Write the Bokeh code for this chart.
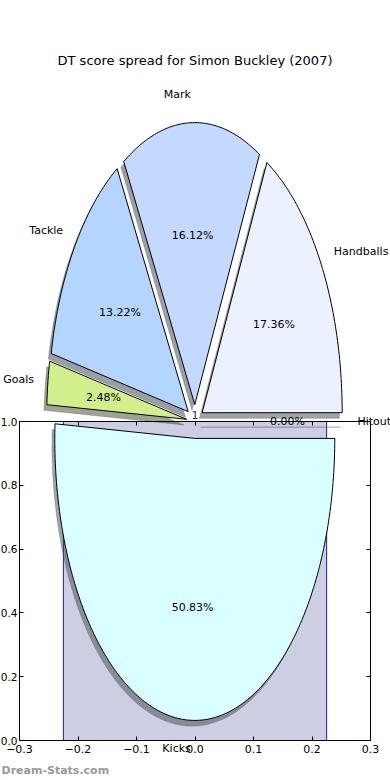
import math
from bokeh.plotting import figure
from bokeh.models import Label, LinearAxis, FixedTicker, Range1d, ColumnDataSource
from bokeh.embed import file_html
from bokeh.resources import INLINE

# ---------------- data ----------------
title_text = "DT score spread for Simon Buckley (2007)"
categories = ["Hitout", "Handballs", "Mark", "Tackle", "Goals", "Kicks"]
points = [0, 42, 39, 32, 6, 123]
wedge_colors = ["#f4f4ff", "#ebf1ff", "#c4d9ff", "#b4d5ff", "#d3ee8d", "#d9ffff"]
bar_x = [0.0]
bar_values = [1]
bar_labels = ["1"]
x_ticks = [-0.3, -0.2, -0.1, 0.0, 0.1, 0.2, 0.3]
x_tick_labels = ["\u22120.3", "\u22120.2", "\u22120.1", "0.0", "0.1", "0.2", "0.3"]
y_ticks = [0.0, 0.2, 0.4, 0.6, 0.8, 1.0]
y_tick_labels = ["0.0", "0.2", "0.4", "0.6", "0.8", "1.0"]
watermark = "Dream-Stats.com"

# ---------------- layout / styles ----------------
W, H = 390, 780
FONT = "DejaVu Sans"
# pixel geometry of the bar-chart box inside the canvas
BOX_X0, BOX_X1 = 19.0, 370.0     # px for x = -0.3 .. 0.3
BOX_Y0, BOX_Y1 = 740.0, 421.0    # px for y = 0 .. 1
PXX = (BOX_X1 - BOX_X0) / 0.6
PXY = (BOX_Y0 - BOX_Y1) / 1.0
X_ZERO = (BOX_X0 + BOX_X1) / 2.0

PIE_CX, PIE_CY = 0.0, 1.0
PIE_RX, PIE_RY = 140.0 / PXX, 282.0 / PXY
EXPLODE = 0.06
LABEL_DIST = 1.1
PCT_DIST = 0.6
SHADOW = 0.02
BAR_WIDTH = 0.45
BAR_FILL = "#cdcde4"
BAR_EDGE = "#1c1ca8"

x_range = Range1d(-X_ZERO / PXX, (W - X_ZERO) / PXX)
y_range = Range1d((BOX_Y0 - H) / PXY, BOX_Y0 / PXY)

p = figure(width=W, height=H, x_range=x_range, y_range=y_range,
           output_backend="svg", toolbar_location=None, title=None,
           x_axis_location=None, y_axis_location=None, min_border=0)
p.grid.visible = False
p.outline_line_color = None
p.background_fill_color = "white"
p.border_fill_color = "white"


def make_axis(ticks, labels, loc, bounds, show_labels, font_size="11px", standoff=4):
    ax = LinearAxis(fixed_location=loc, bounds=bounds)
    ax.ticker = FixedTicker(ticks=ticks)
    ax.major_label_overrides = {t: l for t, l in zip(ticks, labels)}
    ax.major_tick_in = 4
    ax.major_tick_out = 0
    ax.minor_tick_line_color = None
    ax.axis_line_color = "black"
    ax.axis_line_width = 1
    ax.major_tick_line_color = "black"
    ax.major_label_text_font = FONT
    ax.major_label_text_font_size = font_size
    ax.major_label_standoff = standoff
    ax.major_label_text_color = "black" if show_labels else None
    return ax


p.add_layout(make_axis(x_ticks, x_tick_labels, 0.0, (-0.3, 0.3), True), "below")
p.add_layout(make_axis(y_ticks, y_tick_labels, -0.3, (0.0, 1.0), True,
                       font_size="10.5px", standoff=2), "left")
p.add_layout(make_axis(x_ticks, x_tick_labels, 1.0, (-0.3, 0.3), False), "above")
p.add_layout(make_axis(y_ticks, y_tick_labels, 0.3, (0.0, 1.0), False), "right")

# ---------------- bar ----------------
p.vbar(x=bar_x, top=bar_values, bottom=0, width=BAR_WIDTH,
       fill_color=BAR_FILL, line_color=BAR_EDGE, line_width=1)

# ---------------- pie ----------------
total = float(sum(points))
wedges = []
theta = 0.0
for cat, val, col in zip(categories, points, wedge_colors):
    frac = val / total
    t1 = theta
    t2 = theta + 360.0 * frac
    tm = math.radians((t1 + t2) / 2.0)
    ox = PIE_CX + EXPLODE * PIE_RX * math.cos(tm)
    oy = PIE_CY + EXPLODE * PIE_RY * math.sin(tm)
    n = max(2, int(abs(t2 - t1) / 1.0) + 2)
    xs = [ox]
    ys = [oy]
    for k in range(n):
        a = math.radians(t1 + (t2 - t1) * k / (n - 1))
        xs.append(ox + PIE_RX * math.cos(a))
        ys.append(oy + PIE_RY * math.sin(a))
    wedges.append(dict(cat=cat, frac=frac, col=col, xs=xs, ys=ys, ox=ox, oy=oy, tm=tm))
    theta = t2


def shade(hexcol):
    h = hexcol.lstrip("#")
    r, g, b = (int(h[i:i + 2], 16) for i in (0, 2, 4))
    return "#%02x%02x%02x" % (int(r * 0.3), int(g * 0.3), int(b * 0.3))


shadow_src = ColumnDataSource(dict(
    xs=[[x - SHADOW * PIE_RX for x in w["xs"]] for w in wedges],
    ys=[[y - SHADOW * PIE_RY for y in w["ys"]] for w in wedges],
    color=[shade(w["col"]) for w in wedges]))
p.patches("xs", "ys", source=shadow_src, fill_color="color", fill_alpha=0.5,
          line_color="color", line_alpha=0.35, line_width=0.8)

wedge_src = ColumnDataSource(dict(
    xs=[w["xs"] for w in wedges], ys=[w["ys"] for w in wedges],
    color=[w["col"] for w in wedges]))
p.patches("xs", "ys", source=wedge_src, fill_color="color",
          line_color="black", line_width=1)

for w in wedges:
    lx = w["ox"] + LABEL_DIST * PIE_RX * math.cos(w["tm"])
    ly = w["oy"] + LABEL_DIST * PIE_RY * math.sin(w["tm"])
    align = "left" if lx > PIE_CX else "right"
    p.add_layout(Label(x=lx, y=ly, text=w["cat"], text_align=align, text_baseline="middle",
                       text_font=FONT, text_font_size="11px", text_color="black"))
    qx = w["ox"] + PCT_DIST * PIE_RX * math.cos(w["tm"])
    qy = w["oy"] + PCT_DIST * PIE_RY * math.sin(w["tm"])
    p.add_layout(Label(x=qx, y=qy, text="%.2f%%" % (100.0 * w["frac"]), text_align="center",
                       text_baseline="middle", text_font=FONT, text_font_size="11px",
                       text_color="black"))

# bar value label
for bx, bv, bl in zip(bar_x, bar_values, bar_labels):
    p.add_layout(Label(x=bx, y=bv, text=bl, text_align="center", text_baseline="bottom",
                       y_offset=3, text_font=FONT, text_font_size="11px",
                       text_color=BAR_EDGE))

# title and watermark
p.add_layout(Label(x=0.0, y=(BOX_Y0 - 60) / PXY, text=title_text,
                   text_align="center", text_baseline="middle",
                   text_font=FONT, text_font_size="13px", text_color="black"))
p.add_layout(Label(x=(1 - X_ZERO) / PXX, y=(BOX_Y0 - 770) / PXY, text=watermark,
                   text_align="left", text_baseline="middle",
                   text_font=FONT, text_font_size="11px", text_font_style="bold",
                   text_color="#999999"))

open("out.html", "w").write(file_html(p, INLINE))
